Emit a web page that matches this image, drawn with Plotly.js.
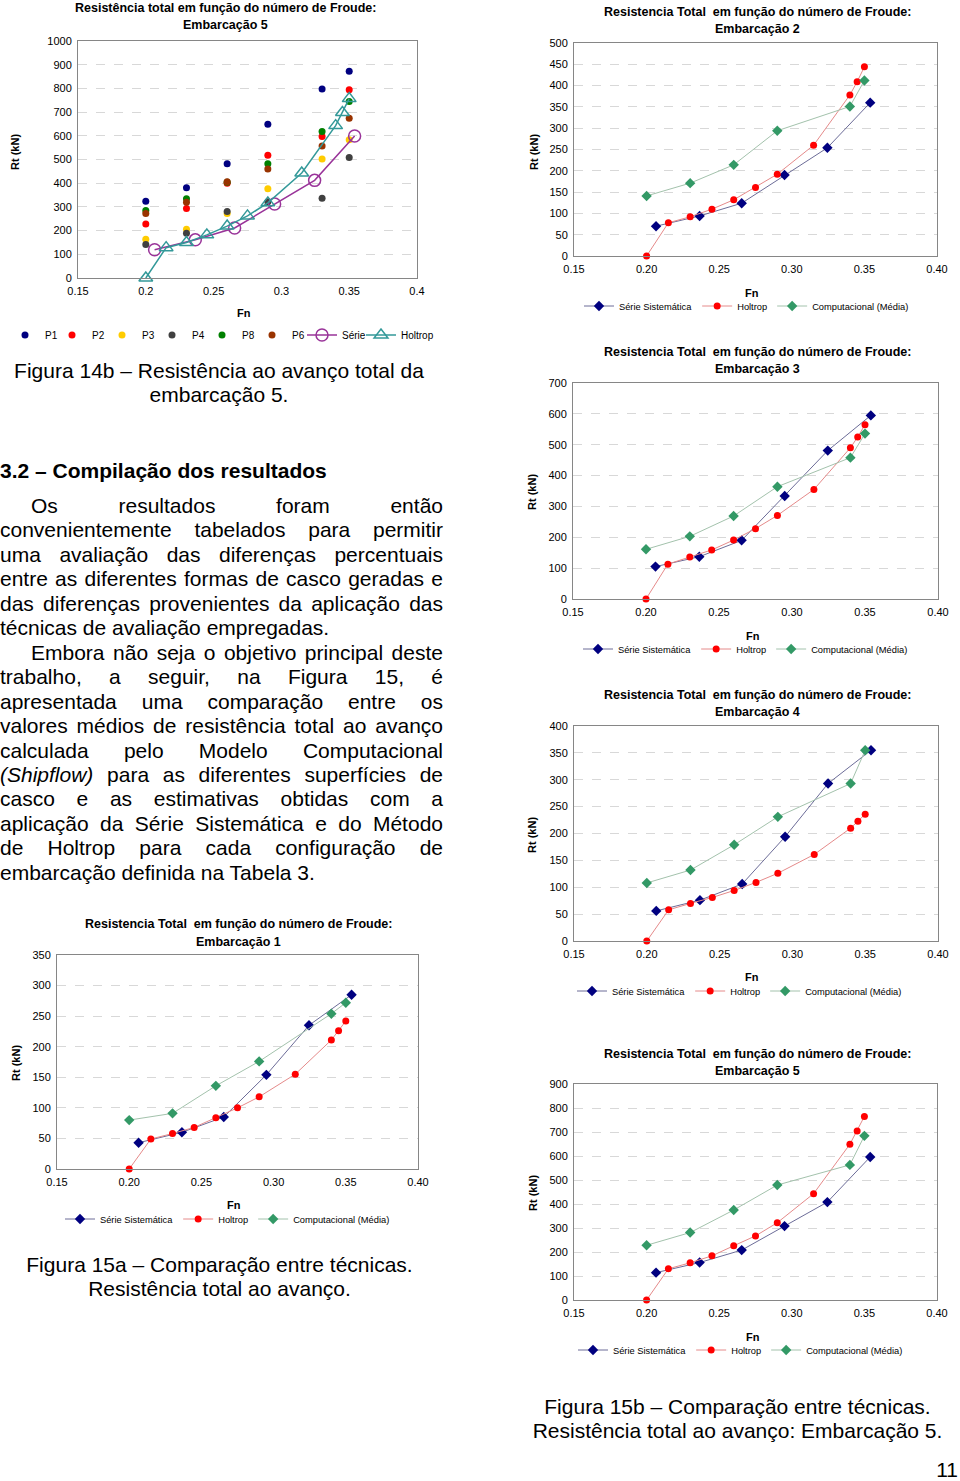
<!DOCTYPE html>
<html><head><meta charset="utf-8">
<script src="https://cdn.plot.ly/plotly-3.0.1.min.js"></script>
<style>
body{margin:0;background:#fff;width:960px;height:1481px;position:relative;overflow:hidden;font-family:'Liberation Sans',Arial,sans-serif;color:#000}
.chart{position:absolute}
.txt{position:absolute;white-space:nowrap;font-size:21px;line-height:24.4px;font-family:'Liberation Sans',Arial,sans-serif}
.j{left:0;width:443px;box-sizing:border-box;text-align:justify;text-align-last:justify}
.last{text-align-last:left}
.ind{padding-left:31px}
.c{text-align:center;width:520px}
</style></head><body>
<div id="texts"></div>
<script>
// ---------- DATA ----------
const xTicks = [0.15, 0.20, 0.25, 0.30, 0.35, 0.40];
const fnP = [0.20, 0.23, 0.26, 0.29, 0.33, 0.35];
const fnSerie = [0.2065, 0.2365, 0.2655, 0.295, 0.3245, 0.354];
const fnHoltrop = [0.20, 0.215, 0.23, 0.245, 0.26, 0.275, 0.29, 0.315, 0.34, 0.345, 0.35];
const fnComp = [0.20, 0.23, 0.26, 0.29, 0.34, 0.35];

// Figura 14b (Embarcação 5, superfícies)
const p1 = [324, 381, 482, 649, 797, 872];
const p2 = [228, 293, 400, 518, 597, 794];
const p3 = [164, 206, 272, 377, 502, 583];
const p4 = [141, 189, 281, 322, 337, 508];
const p8 = [285, 334, 404, 482, 618, 745];
const p6 = [272, 320, 406, 460, 557, 674];
const serie14 = [119, 161, 211, 312, 412, 599];
const holtrop14 = [0, 128, 150, 182, 219, 262, 317, 443, 643, 698, 757];

// Figura 15
const serie1 = [43, 60, 85, 154, 235, 285];
const holtrop1 = [0, 49, 58, 68, 84, 100, 118, 155, 211, 226, 242];
const comp1 = [80, 91, 136, 176, 254, 272];

const serie2 = [70, 94, 124, 190, 254, 360];
const holtrop2 = [0, 78, 92, 110, 132, 161, 192, 260, 378, 409, 444];
const comp2 = [141, 171, 214, 294, 351, 412];

const serie3 = [105, 137, 190, 334, 481, 595];
const holtrop3 = [0, 113, 136, 159, 191, 228, 271, 355, 490, 525, 565];
const comp3 = [161, 203, 269, 364, 458, 536];

const serie4 = [56, 76, 106, 194, 293, 355];
const holtrop4 = [0, 58, 70, 81, 94, 109, 126, 161, 210, 223, 236];
const comp4 = [108, 132, 179, 231, 293, 355];

const serie5 = [114, 156, 208, 308, 408, 596];
const holtrop5 = [0, 130, 155, 184, 226, 267, 322, 443, 649, 704, 765];
const comp5 = [228, 281, 375, 479, 563, 684];

const pNames = ['P1', 'P2', 'P3', 'P4', 'P8', 'P6'];
const compNames = ['Série Sistemática', 'Holtrop', 'Computacional (Média)'];

// ---------- TEXT ----------
const paraLines = [
  ['Os resultados foram então', 'ind'],
  ['convenientemente tabelados para permitir', ''],
  ['uma avaliação das diferenças percentuais', ''],
  ['entre as diferentes formas de casco geradas e', ''],
  ['das diferenças provenientes da aplicação das', ''],
  ['técnicas de avaliação empregadas.', 'last'],
  ['Embora não seja o objetivo principal deste', 'ind'],
  ['trabalho, a seguir, na Figura 15, é', ''],
  ['apresentada uma comparação entre os', ''],
  ['valores médios de resistência total ao avanço', ''],
  ['calculada pelo Modelo Computacional', ''],
  ['<i>(Shipflow)</i> para as diferentes superfícies de', ''],
  ['casco e as estimativas obtidas com a', ''],
  ['aplicação da Série Sistemática e do Método', ''],
  ['de Holtrop para cada configuração de', ''],
  ['embarcação definida na Tabela 3.', 'last']
];
const tbox = document.getElementById('texts');
function addDiv(html, cls, style) {
  const d = document.createElement('div');
  d.className = 'txt ' + cls;
  d.innerHTML = html;
  Object.assign(d.style, style);
  tbox.appendChild(d);
}
paraLines.forEach((ln, i) => addDiv(ln[0], 'j ' + ln[1], {top: (494 + 24.45 * i) + 'px'}));
addDiv('3.2 – Compilação dos resultados', '', {top: '459px', left: '0px', fontWeight: 'bold'});
function caption(lines, cx, tops) {
  lines.forEach((t, i) => addDiv(t, 'c', {left: (cx - 260) + 'px', top: tops[i] + 'px'}));
}
caption(['Figura 14b – Resistência ao avanço total da', 'embarcação 5.'], 219, [359, 383]);
caption(['Figura 15a – Comparação entre técnicas.', 'Resistência total ao avanço.'], 219.5, [1253, 1277]);
caption(['Figura 15b – Comparação entre técnicas.', 'Resistência total ao avanço: Embarcação 5.'], 737.5, [1395, 1419]);
addDiv('11', '', {top: '1458px', right: '2px'});

// ---------- CHARTS ----------
const FONT = 'Liberation Sans, Arial, sans-serif';
function drawChart(cfg) {
  const div = document.createElement('div');
  div.className = 'chart';
  Object.assign(div.style, {left: cfg.left + 'px', top: cfg.top + 'px', width: cfg.w + 'px', height: cfg.h + 'px'});
  document.body.appendChild(div);
  const pw = cfg.w - cfg.l - cfg.r, ph = cfg.h - cfg.t - cfg.b;
  const P = (px, py) => [(px - cfg.l) / pw, (cfg.h - cfg.b - py) / ph];
  const ann = [];
  const addText = (text, px, py, size, angle) => {
    const [x, y] = P(px, py);
    ann.push({text: '<b>' + text + '</b>', x, y, xref: 'paper', yref: 'paper', xanchor: 'center', yanchor: 'middle',
      showarrow: false, textangle: angle || 0, font: {family: FONT, size, color: '#000'}});
  };
  addText(cfg.title1, cfg.titleX, cfg.titleY1, 12.5);
  addText(cfg.title2, cfg.titleX, cfg.titleY2, 12.5);
  addText('Rt (kN)', cfg.ylabX, cfg.ylabY, 11, -90);
  addText('Fn', cfg.fnX, cfg.fnY, 11);
  const axisCommon = {showline: true, mirror: true, linecolor: '#868686', linewidth: 1, ticks: 'outside', ticklen: 3,
    tickcolor: 'rgba(0,0,0,0)', zeroline: false, fixedrange: true, tickfont: {family: FONT, size: 11, color: '#000'}};
  const layout = {
    width: cfg.w, height: cfg.h, margin: {l: cfg.l, r: cfg.r, t: cfg.t, b: cfg.b, pad: 0, autoexpand: false},
    paper_bgcolor: 'rgba(0,0,0,0)', plot_bgcolor: '#fff', showlegend: true,
    xaxis: Object.assign({range: [0.15, 0.40], tickvals: xTicks, ticktext: xTicks.map(cfg.xfmt), showgrid: false}, axisCommon),
    yaxis: Object.assign({range: [0, cfg.ymax], dtick: cfg.dy, tick0: 0, showgrid: true, gridcolor: '#D8D8D8',
      griddash: 'dash', gridwidth: 1}, axisCommon),
    annotations: ann
  };
  cfg.legends.forEach(lg => {
    const [lx, ly] = P(lg.x, lg.y);
    layout[lg.id] = {orientation: 'h', x: lx, y: ly, xanchor: 'left', yanchor: 'middle', bgcolor: 'rgba(0,0,0,0)',
      font: {family: FONT, size: lg.font, color: '#000'}, itemwidth: 30, traceorder: 'normal'};
  });
  Plotly.newPlot(div, cfg.traces, layout, {staticPlot: true, displayModeBar: false});
}

const fmt2 = v => v.toFixed(2);
const fmtShort = v => String(parseFloat(v.toFixed(2)));

function compTraces(serie, holtrop, comp) {
  return [
    {x: fnSerie, y: serie, name: compNames[0], mode: 'lines+markers', cliponaxis: false,
      line: {color: '#6C6C98', width: 1}, marker: {symbol: 'diamond', size: 8, color: '#000080'}},
    {x: fnHoltrop, y: holtrop, name: compNames[1], mode: 'lines+markers', cliponaxis: false,
      line: {color: '#E58A8A', width: 1}, marker: {symbol: 'circle', size: 7, color: '#FF0000'}},
    {x: fnComp, y: comp, name: compNames[2], mode: 'lines+markers', cliponaxis: false,
      line: {color: '#A3C2AC', width: 1}, marker: {symbol: 'diamond', size: 8, color: '#339966'}}
  ];
}

// Figura 14b: one legend box per entry so each entry sits where the reference puts it
const legIds = ['legend', 'legend2', 'legend3', 'legend4', 'legend5', 'legend6', 'legend7', 'legend8'];
const legMarkerX = [25, 72, 122, 172, 222, 272, 322, 381];
const pColors = ['#000080', '#FF0000', '#FFCC00', '#404040', '#008000', '#993300'];
const pData = [p1, p2, p3, p4, p8, p6];
const traces14 = pData.map((d, i) => ({x: fnP, y: d, name: pNames[i], mode: 'markers', cliponaxis: false,
  legend: legIds[i], marker: {symbol: 'circle', size: 7, color: pColors[i]}}));
traces14.push({x: fnSerie, y: serie14, name: 'Série', mode: 'lines+markers', cliponaxis: false, legend: legIds[6],
  line: {color: '#993399', width: 1.5}, marker: {symbol: 'circle-open', size: 12, color: '#993399', line: {width: 1.5}}});
traces14.push({x: fnHoltrop, y: holtrop14, name: 'Holtrop', mode: 'lines+markers', cliponaxis: false, legend: legIds[7],
  line: {color: '#339999', width: 1.5}, marker: {symbol: 'triangle-up-open', size: 12, color: '#339999', line: {width: 1.5}}});

drawChart({left: 0, top: 0, w: 440, h: 345, l: 78, r: 23, t: 41, b: 67, ymax: 1000, dy: 100, xfmt: fmtShort,
  title1: 'Resistência total em função do número de Froude:', title2: 'Embarcação 5', titleX: 225, titleY1: 8, titleY2: 25,
  ylabX: 15, ylabY: 152, fnX: 244, fnY: 313,
  legends: legIds.map((id, i) => ({id, x: legMarkerX[i] - 20, y: 335, font: 10})),
  traces: traces14});

const t2 = 'Resistencia Total  em função do número de Froude:';
drawChart({left: 520, top: 0, w: 440, h: 320, l: 54, r: 23, t: 43, b: 64, ymax: 500, dy: 50, xfmt: fmt2,
  title1: t2, title2: 'Embarcação 2', titleX: 237, titleY1: 12, titleY2: 29,
  ylabX: 14, ylabY: 152, fnX: 232, fnY: 293, legends: [{id: 'legend', x: 59, y: 306, font: 9.3}],
  traces: compTraces(serie2, holtrop2, comp2)});

drawChart({left: 520, top: 340, w: 440, h: 320, l: 53, r: 22, t: 43, b: 61, ymax: 700, dy: 100, xfmt: fmt2,
  title1: t2, title2: 'Embarcação 3', titleX: 237, titleY1: 12, titleY2: 29,
  ylabX: 12, ylabY: 152, fnX: 233, fnY: 296, legends: [{id: 'legend', x: 58, y: 309, font: 9.3}],
  traces: compTraces(serie3, holtrop3, comp3)});

drawChart({left: 520, top: 680, w: 440, h: 320, l: 54, r: 22, t: 46, b: 59, ymax: 400, dy: 50, xfmt: fmt2,
  title1: t2, title2: 'Embarcação 4', titleX: 237, titleY1: 15, titleY2: 32,
  ylabX: 12, ylabY: 155, fnX: 232, fnY: 297, legends: [{id: 'legend', x: 52, y: 311, font: 9.3}],
  traces: compTraces(serie4, holtrop4, comp4)});

drawChart({left: 0, top: 910, w: 440, h: 320, l: 57, r: 22, t: 45, b: 61, ymax: 350, dy: 50, xfmt: fmt2,
  title1: t2, title2: 'Embarcação 1', titleX: 238, titleY1: 14, titleY2: 32,
  ylabX: 16, ylabY: 153, fnX: 234, fnY: 295, legends: [{id: 'legend', x: 60, y: 309, font: 9.3}],
  traces: compTraces(serie1, holtrop1, comp1)});

drawChart({left: 520, top: 1040, w: 440, h: 320, l: 54, r: 23, t: 44, b: 60, ymax: 900, dy: 100, xfmt: fmt2,
  title1: t2, title2: 'Embarcação 5', titleX: 237, titleY1: 14, titleY2: 31,
  ylabX: 13, ylabY: 153, fnX: 233, fnY: 297, legends: [{id: 'legend', x: 53, y: 310, font: 9.3}],
  traces: compTraces(serie5, holtrop5, comp5)});
</script>
</body></html>
